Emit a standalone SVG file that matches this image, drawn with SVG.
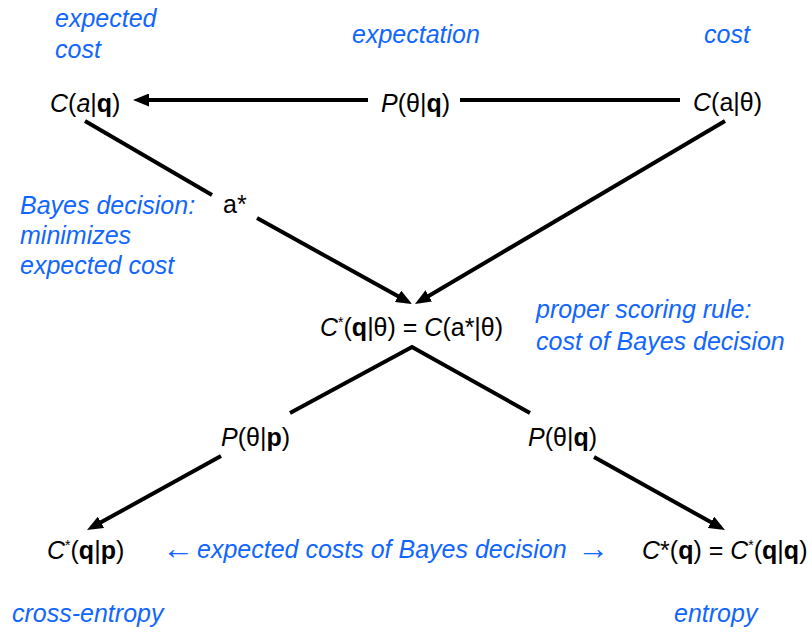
<svg xmlns="http://www.w3.org/2000/svg" width="812" height="632" viewBox="0 0 812 632">
<defs>
<style>
text{font-family:"Liberation Sans",Arial,sans-serif;font-size:25px;fill:#000}
.b{fill:#1166ff;font-style:italic}
.i{font-style:italic}
.bd{font-weight:bold}
.sup{font-size:14px}
.arr{font-size:32px;font-style:normal}
.ln{stroke:#000;stroke-width:4;fill:none}
</style>
<marker id="ah" markerWidth="16" markerHeight="13" refX="11" refY="6.5" orient="auto" markerUnits="userSpaceOnUse"><path d="M0,0 L16,6.5 L0,13 z" fill="#000"/></marker>
</defs>
<rect width="812" height="632" fill="#fff"/>
<g id="connectors">
<line class="ln" x1="368" y1="100" x2="138" y2="100" marker-end="url(#ah)"/>
<line class="ln" x1="460" y1="100" x2="680" y2="100"/>
<line class="ln" x1="85" y1="121" x2="212" y2="195"/>
<line class="ln" x1="257" y1="218" x2="407.6" y2="301.6" marker-end="url(#ah)"/>
<line class="ln" x1="725" y1="121" x2="419.3" y2="301.5" marker-end="url(#ah)"/>
<polyline class="ln" points="290,413 412,347 530,413"/>
<line class="ln" x1="221" y1="456" x2="91.4" y2="527.6" marker-end="url(#ah)"/>
<line class="ln" x1="594" y1="457" x2="720.6" y2="527.6" marker-end="url(#ah)"/>
</g>
<g id="labels">
<text class="b" x="55" y="27">expected</text>
<text class="b" x="55" y="58">cost</text>
<text class="b" x="352" y="43">expectation</text>
<text class="b" x="704" y="43">cost</text>
<text class="b" x="20" y="214">Bayes decision:</text>
<text class="b" x="20" y="244">minimizes</text>
<text class="b" x="20" y="274">expected cost</text>
<text class="b" x="536" y="318">proper scoring rule:</text>
<text class="b" x="536" y="350">cost of Bayes decision</text>
<text class="b" y="558"><tspan class="arr" x="162" dy="1">←</tspan><tspan x="197" dy="-1">expected costs of Bayes decision</tspan><tspan class="arr" x="577" dy="1">→</tspan></text>
<text class="b" x="12" y="622">cross-entropy</text>
<text class="b" x="674" y="622">entropy</text>
</g>
<g id="node-Caq"><text x="50" y="112"><tspan class="i">C</tspan>(<tspan class="i">a</tspan>|<tspan class="bd">q</tspan>)</text></g>
<g id="node-Ptq-top"><text x="381" y="112"><tspan class="i">P</tspan>(θ|<tspan class="bd">q</tspan>)</text></g>
<g id="node-Cat"><text x="693" y="111"><tspan class="i">C</tspan>(a|θ)</text></g>
<g id="node-astar"><text x="223" y="213">a*</text></g>
<g id="node-Cstar"><text x="320" y="336"><tspan class="i">C</tspan><tspan class="sup" dy="-9">*</tspan><tspan dy="9">(</tspan><tspan class="bd">q</tspan>|θ) = <tspan class="i">C</tspan>(a*|θ)</text></g>
<g id="node-Ptp"><text x="221" y="446"><tspan class="i">P</tspan>(θ|<tspan class="bd">p</tspan>)</text></g>
<g id="node-Ptq"><text x="528" y="446"><tspan class="i">P</tspan>(θ|<tspan class="bd">q</tspan>)</text></g>
<g id="node-Cqp"><text x="47" y="559"><tspan class="i">C</tspan><tspan class="sup" dy="-9">*</tspan><tspan dy="9">(</tspan><tspan class="bd">q</tspan>|<tspan class="bd">p</tspan>)</text></g>
<g id="node-Cq"><text x="642" y="559"><tspan class="i">C</tspan>*(<tspan class="bd">q</tspan>) = <tspan class="i">C</tspan><tspan class="sup" dy="-9">*</tspan><tspan dy="9">(</tspan><tspan class="bd">q</tspan>|<tspan class="bd">q</tspan>)</text></g>
</svg>
